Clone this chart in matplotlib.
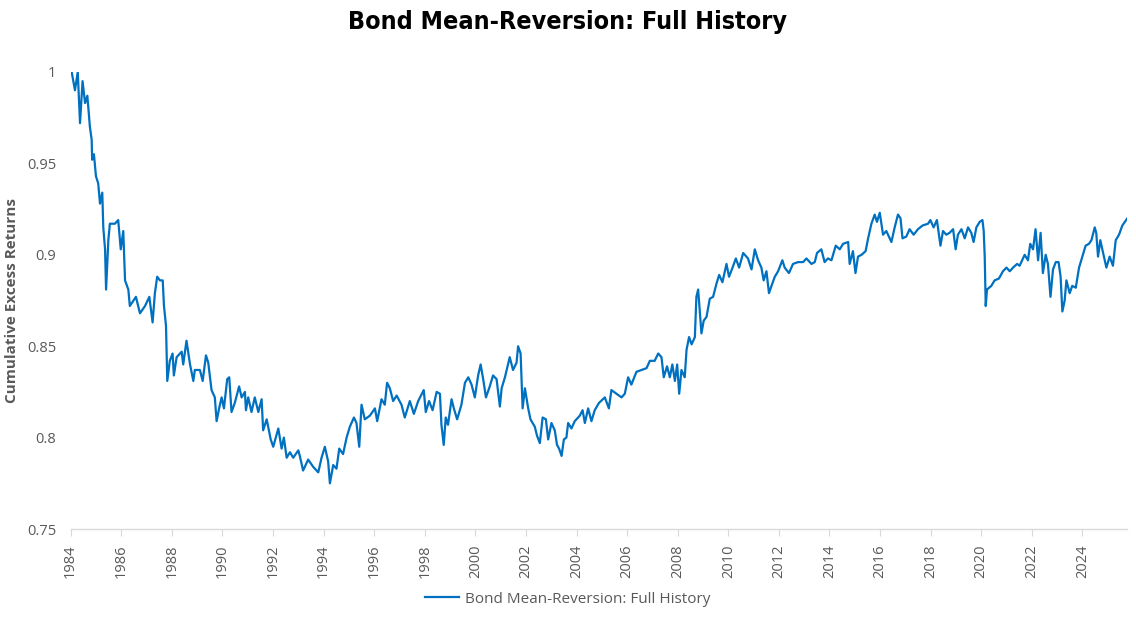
import matplotlib
matplotlib.use("Agg")
import matplotlib.pyplot as plt
from matplotlib.ticker import FixedLocator, FuncFormatter
from matplotlib import font_manager

# decimal years
years = [
1984.04,1984.17,1984.28,1984.37,1984.47,1984.57,1984.66,1984.76,1984.83,1984.85,1984.92,
1985.00,1985.09,1985.16,1985.25,1985.29,1985.36,1985.40,1985.49,1985.55,1985.75,1985.88,1985.98,
1986.08,1986.15,1986.28,1986.34,1986.58,1986.74,1986.94,
1987.11,1987.24,1987.33,1987.42,1987.53,1987.64,1987.69,1987.77,1987.82,1987.92,
1988.03,1988.08,1988.19,1988.39,1988.45,1988.58,1988.72,1988.85,1988.91,
1989.11,1989.22,1989.35,1989.44,1989.57,1989.70,1989.77,1989.87,1989.97,
1990.06,1990.19,1990.27,1990.36,1990.49,1990.66,1990.76,1990.89,1990.93,
1991.02,1991.15,1991.28,1991.42,1991.55,1991.61,1991.75,1991.91,
1992.01,1992.21,1992.34,1992.43,1992.54,1992.67,1992.80,
1993.00,1993.06,1993.19,1993.39,1993.59,1993.79,1993.92,
1994.05,1994.18,1994.25,1994.38,1994.51,1994.62,1994.77,1994.91,
1995.04,1995.20,1995.30,1995.41,1995.50,1995.63,1995.83,
1996.03,1996.12,1996.29,1996.42,1996.51,1996.62,1996.75,1996.89,
1997.08,1997.21,1997.41,1997.57,1997.74,1997.96,
1998.04,1998.17,1998.31,1998.47,1998.60,1998.66,1998.75,1998.83,1998.92,
1999.06,1999.15,1999.28,1999.45,1999.59,1999.72,1999.85,1999.98,
2000.11,2000.21,2000.31,2000.42,2000.57,2000.70,2000.84,2000.97,
2001.04,2001.17,2001.36,2001.49,2001.63,2001.69,2001.79,2001.87,2001.96,
2002.09,2002.18,2002.35,2002.44,2002.55,2002.66,2002.79,2002.88,
2003.01,2003.14,2003.23,2003.31,2003.41,2003.50,2003.60,2003.67,2003.80,2003.93,
2004.13,2004.24,2004.33,2004.46,2004.59,2004.72,2004.89,
2005.12,2005.28,2005.38,2005.58,2005.78,2005.91,
2006.04,2006.17,2006.37,2006.57,2006.77,2006.90,
2007.09,2007.23,2007.36,2007.45,2007.58,2007.69,2007.79,2007.89,2007.98,
2008.06,2008.15,2008.28,2008.35,2008.45,2008.55,2008.68,2008.74,2008.81,2008.87,2008.94,
2009.03,2009.14,2009.27,2009.40,2009.53,2009.64,2009.77,2009.93,
2010.03,2010.17,2010.30,2010.43,2010.59,2010.78,2010.92,
2011.05,2011.18,2011.31,2011.40,2011.51,2011.61,2011.71,2011.84,2011.97,
2012.14,2012.23,2012.40,2012.56,2012.76,2012.96,
2013.09,2013.29,2013.42,2013.51,2013.68,2013.81,2013.94,
2014.08,2014.25,2014.41,2014.54,2014.74,2014.80,2014.93,
2015.03,2015.13,2015.27,2015.43,2015.53,2015.66,2015.79,2015.88,2015.99,
2016.12,2016.25,2016.45,2016.58,2016.71,2016.81,2016.89,
2017.04,2017.17,2017.33,2017.50,2017.68,2017.90,2017.99,
2018.12,2018.25,2018.39,2018.49,2018.62,2018.75,2018.89,2018.99,
2019.08,2019.22,2019.35,2019.48,2019.61,2019.70,2019.81,2019.94,
2020.05,2020.10,2020.14,2020.18,2020.23,2020.40,2020.53,2020.70,2020.86,
2021.00,2021.13,2021.26,2021.42,2021.52,2021.72,2021.85,2021.94,
2022.05,2022.15,2022.25,2022.35,2022.44,2022.55,2022.64,2022.74,2022.84,2022.95,
2023.06,2023.14,2023.21,2023.30,2023.37,2023.50,2023.60,2023.74,2023.87,
2024.00,2024.13,2024.26,2024.36,2024.49,2024.55,2024.62,2024.71,2024.84,2024.95,
2025.08,2025.21,2025.32,2025.45,2025.58,2025.78,
]

returns = [
1.000,0.990,1.000,0.972,0.995,0.983,0.987,0.970,0.963,0.952,0.955,
0.943,0.939,0.928,0.934,0.915,0.903,0.881,0.908,0.917,0.917,0.919,0.903,
0.913,0.886,0.881,0.872,0.877,0.868,0.872,
0.877,0.863,0.879,0.888,0.886,0.886,0.872,0.861,0.831,0.842,
0.846,0.834,0.844,0.847,0.840,0.853,0.840,0.831,0.837,
0.837,0.831,0.845,0.841,0.826,0.822,0.809,0.816,0.822,
0.816,0.832,0.833,0.814,0.819,0.828,0.822,0.825,0.815,
0.822,0.814,0.822,0.814,0.821,0.804,0.810,0.799,
0.795,0.805,0.794,0.800,0.789,0.792,0.789,
0.793,0.790,0.782,0.788,0.784,0.781,0.789,
0.795,0.787,0.775,0.785,0.783,0.794,0.791,0.800,
0.806,0.811,0.808,0.795,0.818,0.810,0.812,
0.816,0.809,0.821,0.818,0.830,0.827,0.820,0.823,
0.818,0.811,0.820,0.813,0.820,0.826,
0.814,0.820,0.815,0.825,0.824,0.807,0.796,0.811,0.807,
0.821,0.816,0.810,0.818,0.830,0.833,0.829,0.822,
0.834,0.840,0.832,0.822,0.828,0.834,0.832,0.817,
0.827,0.833,0.844,0.837,0.841,0.850,0.846,0.816,0.827,
0.816,0.810,0.806,0.801,0.797,0.811,0.810,0.799,
0.808,0.804,0.796,0.794,0.790,0.799,0.800,0.808,0.805,0.809,
0.812,0.815,0.808,0.816,0.809,0.815,0.819,
0.822,0.816,0.826,0.824,0.822,0.824,
0.833,0.829,0.836,0.837,0.838,0.842,
0.842,0.846,0.844,0.833,0.839,0.833,0.840,0.831,0.840,
0.824,0.837,0.833,0.848,0.855,0.851,0.855,0.877,0.881,0.870,0.857,
0.864,0.866,0.876,0.877,0.884,0.889,0.885,0.895,
0.888,0.893,0.898,0.893,0.901,0.898,0.892,
0.903,0.897,0.893,0.886,0.891,0.879,0.883,0.888,0.891,
0.897,0.893,0.890,0.895,0.896,0.896,
0.898,0.895,0.896,0.901,0.903,0.896,0.898,
0.897,0.905,0.903,0.906,0.907,0.895,0.902,
0.890,0.899,0.900,0.902,0.909,0.917,0.922,0.918,0.923,
0.911,0.913,0.907,0.915,0.922,0.920,0.909,
0.910,0.914,0.911,0.914,0.916,0.917,0.919,
0.915,0.919,0.905,0.913,0.911,0.912,0.914,0.903,
0.911,0.914,0.909,0.915,0.912,0.907,0.915,0.918,
0.919,0.913,0.899,0.872,0.881,0.883,0.886,0.887,0.891,
0.893,0.891,0.893,0.895,0.894,0.900,0.897,0.906,
0.903,0.914,0.897,0.912,0.890,0.900,0.895,0.877,0.892,0.896,
0.896,0.888,0.869,0.875,0.886,0.879,0.883,0.882,0.893,
0.899,0.905,0.906,0.908,0.915,0.912,0.899,0.908,0.900,0.893,
0.899,0.894,0.908,0.911,0.916,0.920,
]

series_name = "Bond Mean-Reversion: Full History"
title = "Bond Mean-Reversion: Full History"
y_label = "Cumulative Excess Returns"
x_ticks = list(range(1984, 2025, 2))
y_ticks = [0.75, 0.8, 0.85, 0.9, 0.95, 1.0]

# pick a condensed font for the title if one is installed
names = {f.name for f in font_manager.fontManager.ttflist}
title_props = dict(fontweight="bold")
if any(f.name == "DejaVu Sans" and f.stretch not in ("normal", 500) for f in font_manager.fontManager.ttflist):
    title_props.update(family=["DejaVu Sans"], fontstretch="condensed", fontsize=18)
elif "Liberation Sans Narrow" in names:
    title_props.update(family=["Liberation Sans Narrow", "DejaVu Sans"], fontsize=22)
else:
    title_props.update(family=["Roboto", "DejaVu Sans"], fontsize=17)

fig = plt.figure(figsize=(11.36, 6.21), dpi=100)
ax = fig.add_axes([0.0622, 0.1481, 0.9302, 0.736])

ax.plot(years, returns, color="#0070C0", linewidth=1.6, label=series_name)

ax.set_xlim(1984, 2025.78)
ax.set_ylim(0.75, 1.0)

ax.xaxis.set_major_locator(FixedLocator(x_ticks))
ax.yaxis.set_major_locator(FixedLocator(y_ticks))
ax.yaxis.set_major_formatter(FuncFormatter(lambda v, p: f"{v:g}"))

gray = "#595959"
for s in ["top", "right", "left"]:
    ax.spines[s].set_visible(False)
ax.spines["bottom"].set_color("#d9d9d9")
ax.spines["bottom"].set_linewidth(1.0)

ax.tick_params(axis="x", direction="out", length=5, color="#d9d9d9", labelcolor=gray,
               labelsize=10.5, labelrotation=90, pad=6)
ax.tick_params(axis="y", length=0, labelcolor=gray, labelsize=10.5, pad=10.5)
for lbl in ax.get_xticklabels() + ax.get_yticklabels():
    lbl.set_family(["Open Sans", "DejaVu Sans"])

ax.set_ylabel(y_label, color=gray, fontsize=11, fontweight="bold",
              family=["Open Sans", "DejaVu Sans"])
ax.yaxis.set_label_coords(-0.049, 0.5)

fig.text(0.5, 0.965, title, ha="center", va="center", color="black", **title_props)

leg = fig.legend(loc="center", bbox_to_anchor=(0.5, 0.035), frameon=False,
                 prop={"family": ["Open Sans", "DejaVu Sans"], "size": 11},
                 handlelength=2.2, handletextpad=0.4)
for t in leg.get_texts():
    t.set_color(gray)

fig.savefig("out.png", dpi=100, facecolor="white")
